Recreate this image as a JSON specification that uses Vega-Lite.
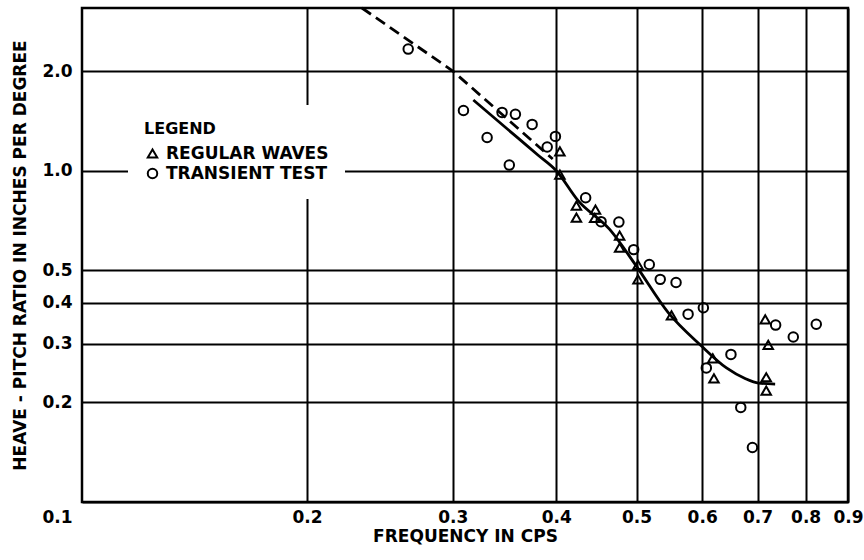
{
  "$schema": "https://vega.github.io/schema/vega-lite/v6.json",
  "width": 766,
  "height": 494,
  "autosize": "none",
  "padding": {"left": 82, "top": 8, "right": 16, "bottom": 58},
  "background": "white",
  "config": {
    "view": {"stroke": "black", "strokeWidth": 2.5},
    "font": "DejaVu Sans",
    "axis": {
      "grid": true, "gridColor": "black", "gridWidth": 2, "gridOpacity": 1,
      "domain": false, "ticks": false,
      "labelColor": "black", "titleColor": "black",
      "labelFont": "DejaVu Sans", "titleFont": "DejaVu Sans",
      "labelFontWeight": "bold", "titleFontWeight": "bold",
      "labelFontSize": 17, "titleFontSize": 17, "labelOverlap": false
    }
  },
  "datasets": {
    "points": [
      {"f": 0.265, "r": 2.33, "test": "TRANSIENT TEST"},
      {"f": 0.309, "r": 1.52, "test": "TRANSIENT TEST"},
      {"f": 0.330, "r": 1.26, "test": "TRANSIENT TEST"},
      {"f": 0.344, "r": 1.50, "test": "TRANSIENT TEST"},
      {"f": 0.357, "r": 1.48, "test": "TRANSIENT TEST"},
      {"f": 0.374, "r": 1.38, "test": "TRANSIENT TEST"},
      {"f": 0.351, "r": 1.04, "test": "TRANSIENT TEST"},
      {"f": 0.390, "r": 1.18, "test": "TRANSIENT TEST"},
      {"f": 0.399, "r": 1.27, "test": "TRANSIENT TEST"},
      {"f": 0.434, "r": 0.829, "test": "TRANSIENT TEST"},
      {"f": 0.453, "r": 0.702, "test": "TRANSIENT TEST"},
      {"f": 0.476, "r": 0.70, "test": "TRANSIENT TEST"},
      {"f": 0.496, "r": 0.578, "test": "TRANSIENT TEST"},
      {"f": 0.518, "r": 0.521, "test": "TRANSIENT TEST"},
      {"f": 0.534, "r": 0.47, "test": "TRANSIENT TEST"},
      {"f": 0.558, "r": 0.46, "test": "TRANSIENT TEST"},
      {"f": 0.577, "r": 0.369, "test": "TRANSIENT TEST"},
      {"f": 0.602, "r": 0.386, "test": "TRANSIENT TEST"},
      {"f": 0.607, "r": 0.254, "test": "TRANSIENT TEST"},
      {"f": 0.650, "r": 0.279, "test": "TRANSIENT TEST"},
      {"f": 0.668, "r": 0.193, "test": "TRANSIENT TEST"},
      {"f": 0.690, "r": 0.146, "test": "TRANSIENT TEST"},
      {"f": 0.736, "r": 0.342, "test": "TRANSIENT TEST"},
      {"f": 0.773, "r": 0.315, "test": "TRANSIENT TEST"},
      {"f": 0.824, "r": 0.344, "test": "TRANSIENT TEST"},
      {"f": 0.404, "r": 1.144, "test": "REGULAR WAVES"},
      {"f": 0.404, "r": 0.973, "test": "REGULAR WAVES"},
      {"f": 0.423, "r": 0.785, "test": "REGULAR WAVES"},
      {"f": 0.423, "r": 0.722, "test": "REGULAR WAVES"},
      {"f": 0.446, "r": 0.763, "test": "REGULAR WAVES"},
      {"f": 0.445, "r": 0.72, "test": "REGULAR WAVES"},
      {"f": 0.477, "r": 0.637, "test": "REGULAR WAVES"},
      {"f": 0.477, "r": 0.586, "test": "REGULAR WAVES"},
      {"f": 0.502, "r": 0.52, "test": "REGULAR WAVES"},
      {"f": 0.502, "r": 0.47, "test": "REGULAR WAVES"},
      {"f": 0.551, "r": 0.366, "test": "REGULAR WAVES"},
      {"f": 0.618, "r": 0.2715, "test": "REGULAR WAVES"},
      {"f": 0.620, "r": 0.236, "test": "REGULAR WAVES"},
      {"f": 0.715, "r": 0.356, "test": "REGULAR WAVES"},
      {"f": 0.721, "r": 0.298, "test": "REGULAR WAVES"},
      {"f": 0.717, "r": 0.238, "test": "REGULAR WAVES"},
      {"f": 0.717, "r": 0.217, "test": "REGULAR WAVES"}
    ],
    "dashed": [
      {"f": 0.233, "r": 3.1},
      {"f": 0.300, "r": 2.0},
      {"f": 0.396, "r": 1.085}
    ],
    "solid": [
      {"f": 0.3176, "r": 1.635},
      {"f": 0.36, "r": 1.252},
      {"f": 0.38, "r": 1.116},
      {"f": 0.400, "r": 1.0},
      {"f": 0.425, "r": 0.812},
      {"f": 0.464, "r": 0.665},
      {"f": 0.499, "r": 0.518},
      {"f": 0.546, "r": 0.373},
      {"f": 0.597, "r": 0.298},
      {"f": 0.642, "r": 0.254},
      {"f": 0.676, "r": 0.236},
      {"f": 0.702, "r": 0.2285},
      {"f": 0.735, "r": 0.227}
    ]
  },
  "encoding": {
    "x": {
      "field": "f", "type": "quantitative",
      "scale": {"type": "log", "domain": [0.107, 0.9], "nice": false},
      "axis": {
        "values": [0.2, 0.3, 0.4, 0.5, 0.6, 0.7, 0.8, 0.9],
        "format": ".1f", "title": "FREQUENCY IN CPS",
        "labelPadding": 7, "titlePadding": 3, "labelFlush": false
      }
    },
    "y": {
      "field": "r", "type": "quantitative",
      "scale": {"type": "log", "domain": [0.1, 3.1], "nice": false},
      "axis": {
        "values": [0.1, 0.2, 0.3, 0.4, 0.5, 1, 2],
        "format": ".1f", "title": "HEAVE - PITCH RATIO IN INCHES PER DEGREE",
        "labelPadding": 10, "titlePadding": 12, "labelFlush": false,
        "labelOffset": {"condition": {"test": "datum.value < 0.15", "value": 15}, "value": 0}
      }
    }
  },
  "layer": [
    {
      "data": {"name": "solid"},
      "mark": {"type": "line", "interpolate": "monotone", "color": "black", "strokeWidth": 2.8}
    },
    {
      "data": {"name": "dashed"},
      "mark": {"type": "line", "color": "black", "strokeWidth": 2.8, "strokeDash": [11, 6]}
    },
    {
      "data": {"name": "points"},
      "mark": {"type": "point", "filled": false, "color": "black", "strokeWidth": 2, "size": 90, "opacity": 1},
      "encoding": {
        "shape": {
          "field": "test", "type": "nominal",
          "scale": {"domain": ["REGULAR WAVES", "TRANSIENT TEST"], "range": ["triangle-up", "circle"]},
          "legend": {
            "orient": "none", "legendX": 46, "legendY": 97,
            "title": "LEGEND", "titleFontSize": 16, "titleFontWeight": "bold", "titleColor": "black",
            "titlePadding": 8, "titleLimit": 400,
            "labelFontSize": 17, "labelFontWeight": "bold", "labelColor": "black", "labelOffset": 5,
            "labelLimit": 400,
            "fillColor": "white", "padding": 16,
            "symbolStrokeColor": "black", "symbolStrokeWidth": 2, "symbolFillColor": "white", "symbolSize": 90,
            "rowPadding": 2
          }
        }
      }
    }
  ]
}
